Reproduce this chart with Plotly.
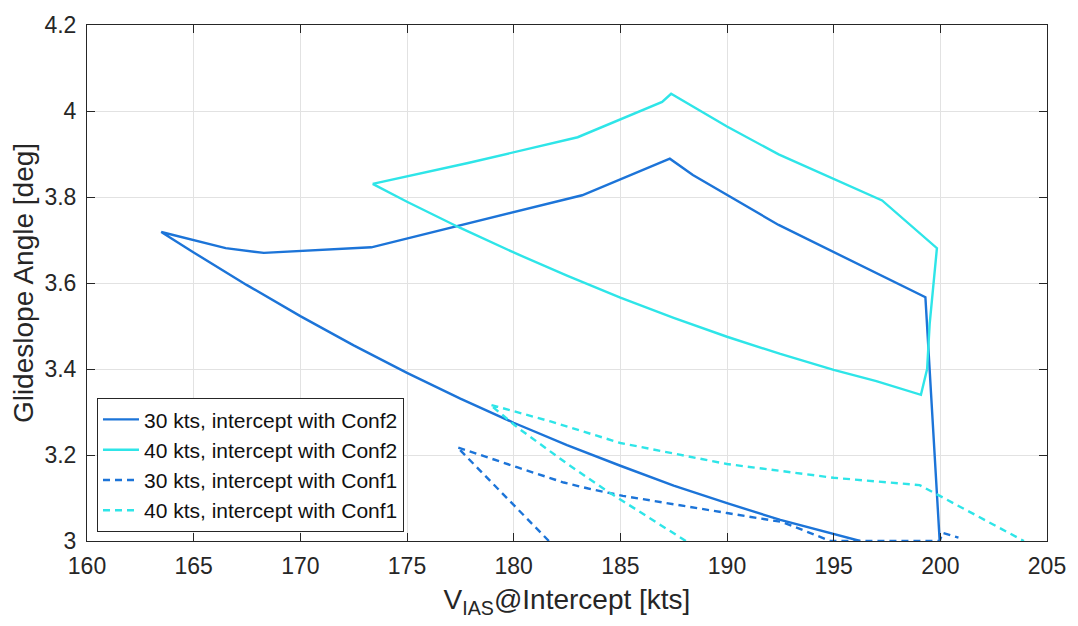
import plotly.graph_objects as go

# 30 kts, intercept with Conf2: lower curve (right -> left), then upper boundary and drop-off
v30_conf2 = [196.24, 194.14, 192.5, 190.0, 187.5, 185.0, 182.5, 180.0, 177.5, 175.0, 172.5, 170.0,
             167.5, 165.0, 163.48, 166.5, 168.29, 173.33, 183.21, 187.32, 188.4, 192.42, 196.94,
             199.3, 199.97]
gs30_conf2 = [3.0, 3.027, 3.049, 3.088, 3.129, 3.175, 3.223, 3.275, 3.331, 3.391, 3.455, 3.523,
              3.595, 3.671, 3.7186, 3.681, 3.670, 3.683, 3.804, 3.889, 3.851, 3.735, 3.625,
              3.567, 3.0]

# 40 kts, intercept with Conf2: closed envelope
v40_conf2 = [173.39, 177.86, 183.0, 186.96, 187.38, 190.0, 192.42, 197.27, 199.84, 199.5, 199.38,
             199.09, 197.0, 195.0, 192.5, 190.0, 187.5, 185.0, 182.5, 180.0, 177.5, 175.0, 173.39]
gs40_conf2 = [3.8305, 3.879, 3.939, 4.021, 4.040, 3.964, 3.899, 3.792, 3.681, 3.505, 3.40,
              3.34, 3.372, 3.398, 3.435, 3.475, 3.519, 3.566, 3.617, 3.671, 3.728, 3.789, 3.8305]

# 30 kts, intercept with Conf1
v30_conf1 = [181.65, 177.36, 180.19, 182.35, 183.5, 185.12, 190.0, 192.6, 194.85, 199.97, 200.1, 200.85]
gs30_conf1 = [3.0, 3.218, 3.171, 3.136, 3.122, 3.105, 3.065, 3.044, 3.0, 3.0, 3.019, 3.008]

# 40 kts, intercept with Conf1
v40_conf1 = [188.07, 186.3, 184.35, 182.5, 180.2, 178.9, 181.73, 185.0, 190.0, 195.0, 199.03, 203.92]
gs40_conf1 = [3.0, 3.056, 3.117, 3.18, 3.263, 3.317, 3.278, 3.228, 3.179, 3.147, 3.13, 3.0]

x_ticks = [160, 165, 170, 175, 180, 185, 190, 195, 200, 205]
y_ticks = [3.0, 3.2, 3.4, 3.6, 3.8, 4.0, 4.2]
y_tick_text = ["3", "3.2", "3.4", "3.6", "3.8", "4", "4.2"]

BLUE = "#1c74d8"
CYAN = "#2ee5e8"
AX = "#262626"
FONT = "Liberation Sans, Arial, Helvetica, sans-serif"

fig = go.Figure()
fig.add_trace(go.Scatter(x=v30_conf2, y=gs30_conf2, mode="lines",
                         name="30 kts, intercept with Conf2",
                         line=dict(color=BLUE, width=2.4)))
fig.add_trace(go.Scatter(x=v40_conf2, y=gs40_conf2, mode="lines",
                         name="40 kts, intercept with Conf2",
                         line=dict(color=CYAN, width=2.4)))
fig.add_trace(go.Scatter(x=v30_conf1, y=gs30_conf1, mode="lines",
                         name="30 kts, intercept with Conf1",
                         line=dict(color=BLUE, width=2.4, dash="7px,5px")))
fig.add_trace(go.Scatter(x=v40_conf1, y=gs40_conf1, mode="lines",
                         name="40 kts, intercept with Conf1",
                         line=dict(color=CYAN, width=2.4, dash="7px,5px")))

axis_common = dict(
    showline=True, linecolor=AX, linewidth=1, mirror="ticks",
    ticks="inside", ticklen=8, tickwidth=1, tickcolor=AX,
    showgrid=True, gridcolor="#e2e2e2", gridwidth=1, zeroline=False,
    tickfont=dict(family=FONT, size=23, color=AX),
)

fig.update_layout(
    width=1078, height=626,
    margin=dict(l=87, r=25, t=18, b=85),
    paper_bgcolor="white", plot_bgcolor="white",
    font=dict(family=FONT, color=AX),
    xaxis=dict(range=[160, 205], tickvals=x_ticks, ticklabelstandoff=4,
               title=dict(text="V<sub>IAS</sub>@Intercept [kts]",
                          font=dict(family=FONT, size=28, color=AX), standoff=11),
               **axis_common),
    yaxis=dict(range=[3.0, 4.2], tickvals=y_ticks, ticktext=y_tick_text, ticklabelstandoff=5,
               title=dict(text="Glideslope Angle [deg]",
                          font=dict(family=FONT, size=28, color=AX), standoff=2),
               **axis_common),
    legend=dict(x=0.0104, y=0.017, xanchor="left", yanchor="bottom",
                bgcolor="white", bordercolor=AX, borderwidth=1,
                font=dict(family=FONT, size=21, color="#111111"),
                itemwidth=36, tracegroupgap=0),
    showlegend=True,
)

fig.write_html("out.html")
